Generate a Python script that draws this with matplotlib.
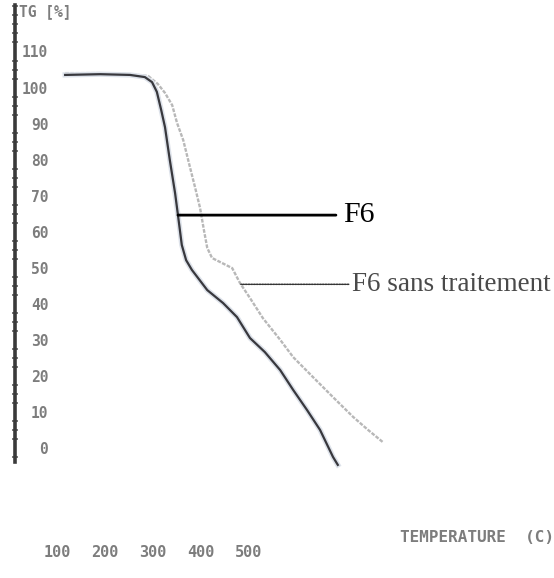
import numpy as np
import matplotlib.pyplot as plt
from matplotlib.ticker import MultipleLocator

# Thermogravimetric curves: temperature (C) vs residual mass TG (%)
temp_f6 = [117, 190, 252, 283, 298, 308, 317, 325, 335, 346, 352, 360, 369,
           381, 413, 446, 475, 502, 533, 565, 592, 621, 648, 675, 685]
tg_f6 = [103.5, 103.7, 103.5, 102.9, 101.5, 98.8, 93.8, 89.0, 79.9, 70.7,
         64.6, 56.3, 52.1, 49.4, 43.8, 40.2, 36.3, 30.5, 26.6, 21.6, 16.1,
         10.5, 5.0, -2.5, -4.7]

temp_raw = [117, 190, 252, 290, 310, 325, 340, 350, 363, 377, 388, 398, 406,
            413, 423, 444, 465, 481, 502, 529, 565, 592, 633, 675, 717, 748,
            779]
tg_raw = [104.0, 104.0, 103.7, 103.2, 101.0, 98.5, 95.1, 90.2, 85.4, 77.9,
          72.1, 66.6, 60.5, 55.5, 52.7, 51.3, 49.9, 45.8, 41.6, 36.0, 30.0,
          25.2, 19.7, 14.1, 8.6, 5.0, 1.6]

y_ticks = [0, 10, 20, 30, 40, 50, 60, 70, 80, 90, 100, 110]
x_ticks = [100, 200, 300, 400, 500]

label_f6 = "F6"
label_raw = "F6 sans traitement"

W, H = 554, 578
fig = plt.figure(figsize=(W / 100, H / 100), dpi=100)
ax = fig.add_axes([15 / W, (H - 462) / H, 539 / W, 457 / H])

ax.set_xlim(12.5, 1135.4)
ax.set_ylim(-3.9, 122.9)

ax.plot(temp_raw, tg_raw, color="#b8b8b8", lw=1.7, ls=(0, (1.6, 0.6)),
        clip_on=False, zorder=2)
ax.plot(temp_f6, tg_f6, color="#dde2ea", lw=3.8, clip_on=False, zorder=2)
ax.plot(temp_f6, tg_f6, color="#38383d", lw=1.6, clip_on=False, zorder=3)

for s in ["top", "right", "bottom"]:
    ax.spines[s].set_visible(False)
ax.spines["left"].set_linewidth(2.6)
ax.spines["left"].set_color("#3a3a3a")

mono = dict(family="DejaVu Sans Mono", weight="bold", color="#7d7d7d")

ax.set_yticks(y_ticks)
ax.set_yticklabels([str(v) for v in y_ticks], fontsize=10.5, **mono)
ax.tick_params(axis="y", which="major", length=0, pad=-24)
ax.yaxis.set_minor_locator(MultipleLocator(2.5))
ax.tick_params(axis="y", which="minor", length=4, width=1.1,
               direction="inout", color="#555555")

ax.set_xticks(x_ticks)
ax.set_xticklabels([str(v) for v in x_ticks], fontsize=11, **mono)
ax.tick_params(axis="x", length=0, pad=60)

ax.text(0.008, 0.985, "TG [%]", transform=ax.transAxes, fontsize=10.5,
        ha="left", va="center", **mono)
ax.text(1.0, -0.166, "TEMPERATURE  (C)", transform=ax.transAxes,
        fontsize=11.5, ha="right", va="center", **mono)

# leader lines tying each label to its curve
t_a = 352
ax.annotate(label_f6, xy=(t_a, np.interp(t_a, temp_f6, tg_f6)),
            xytext=(697, np.interp(t_a, temp_f6, tg_f6)),
            fontsize=21.5, family="Liberation Serif", color="black",
            ha="left", va="center",
            arrowprops=dict(arrowstyle="-", lw=2.0, color="black",
                            shrinkA=3.5, shrinkB=0))

t_b = 483
ax.annotate(label_raw, xy=(t_b, np.interp(t_b, temp_raw, tg_raw)),
            xytext=(715, np.interp(t_b, temp_raw, tg_raw)),
            fontsize=19.5, family="Liberation Serif", color="#4a4a4a",
            ha="left", va="center",
            arrowprops=dict(arrowstyle="-", lw=1.1, color="#333333",
                            ls=(0, (1, 0.8)), shrinkA=0.5, shrinkB=0))

fig.savefig("out.png", dpi=100)
